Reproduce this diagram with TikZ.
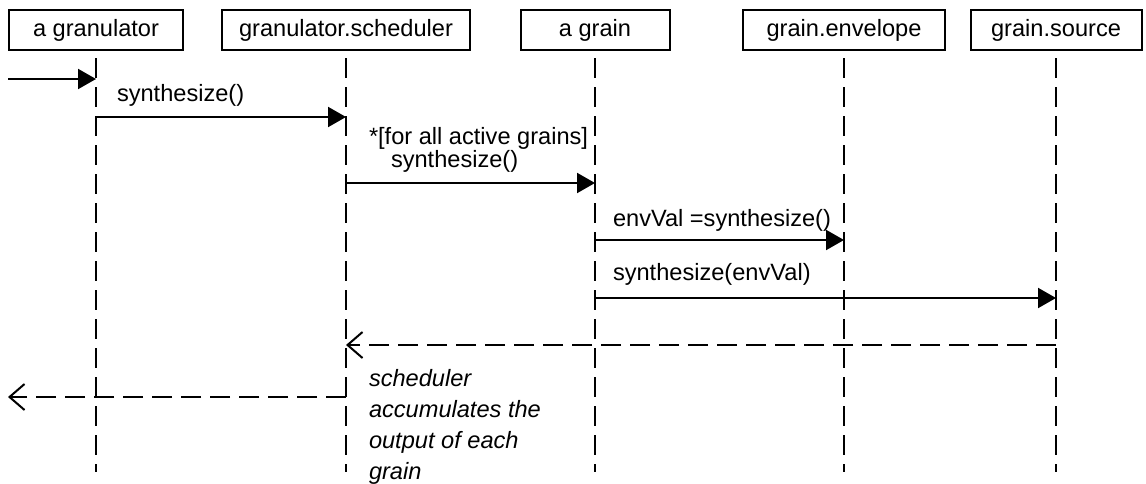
\documentclass[tikz,border=0pt]{standalone}
\usepackage{fontspec}
\setmainfont{Liberation Sans}
\usetikzlibrary{arrows.meta,calc,positioning}

\begin{document}
\begin{tikzpicture}[x=0.5pt,y=-0.5pt,line width=1pt,
    font=\fontsize{11.8}{15.5}\selectfont,
    obj/.style={draw,minimum height=20pt,inner sep=0pt},
    life/.style={dash pattern=on 10pt off 4.5pt},
    call/.style={-{Triangle[length=9pt,width=10pt]}},
    reply/.style={dash pattern=on 10pt off 4.5pt,-{Straight Barb[length=7.5pt,width=13pt]}},
    lbl/.style={anchor=west,inner sep=0pt}]
  \useasboundingbox (0,0) rectangle (1146,483);
  % objects
  \node[obj,minimum width=87pt]   (gran)  at (96,30)    {a granulator};
  \node[obj,minimum width=124pt]  (sched) at (346,30)   {granulator.scheduler};
  \node[obj,minimum width=74.5pt] (grain) at (595,30)   {a grain};
  \node[obj,minimum width=101pt]  (env)   at (844,30)   {grain.envelope};
  \node[obj,minimum width=85.5pt] (src)   at (1056,30)  {grain.source};
  % lifelines
  \foreach \n in {gran,sched,grain,env,src}
    \draw[life] (\n |- 0,58) -- (\n |- 0,472);
  \coordinate (start) at (8,79);
  \coordinate (out) at (8,397);
  % messages
  \draw[call] (start) -- (gran |- start);
  \draw[call] (gran |- 0,117) -- (sched |- 0,117);
  \node[lbl] (m1) at (116,95) {synthesize()};
  \draw[call] (sched |- 0,183) -- (grain |- 0,183);
  \node[lbl] (m2a) at (368,138) {*[for all active grains]};
  \node[lbl] (m2b) at (390,161) {synthesize()};
  \draw[call] (grain |- 0,240) -- (env |- 0,240);
  \node[lbl] (m3) at (612,220) {envVal =synthesize()};
  \draw[call] (grain |- 0,298) -- (src |- 0,298);
  \node[lbl] (m4) at (612,274) {synthesize(envVal)};
  \draw[reply] (src |- 0,345) -- (sched |- 0,345);
  \draw[reply] (sched |- out) -- (out);
  \node[lbl,font=\fontsize{11.8}{15.5}\selectfont\itshape,align=left,anchor=north west]
    (note) at (368,368) {scheduler\\accumulates the\\output of each\\grain};
\end{tikzpicture}
\end{document}
